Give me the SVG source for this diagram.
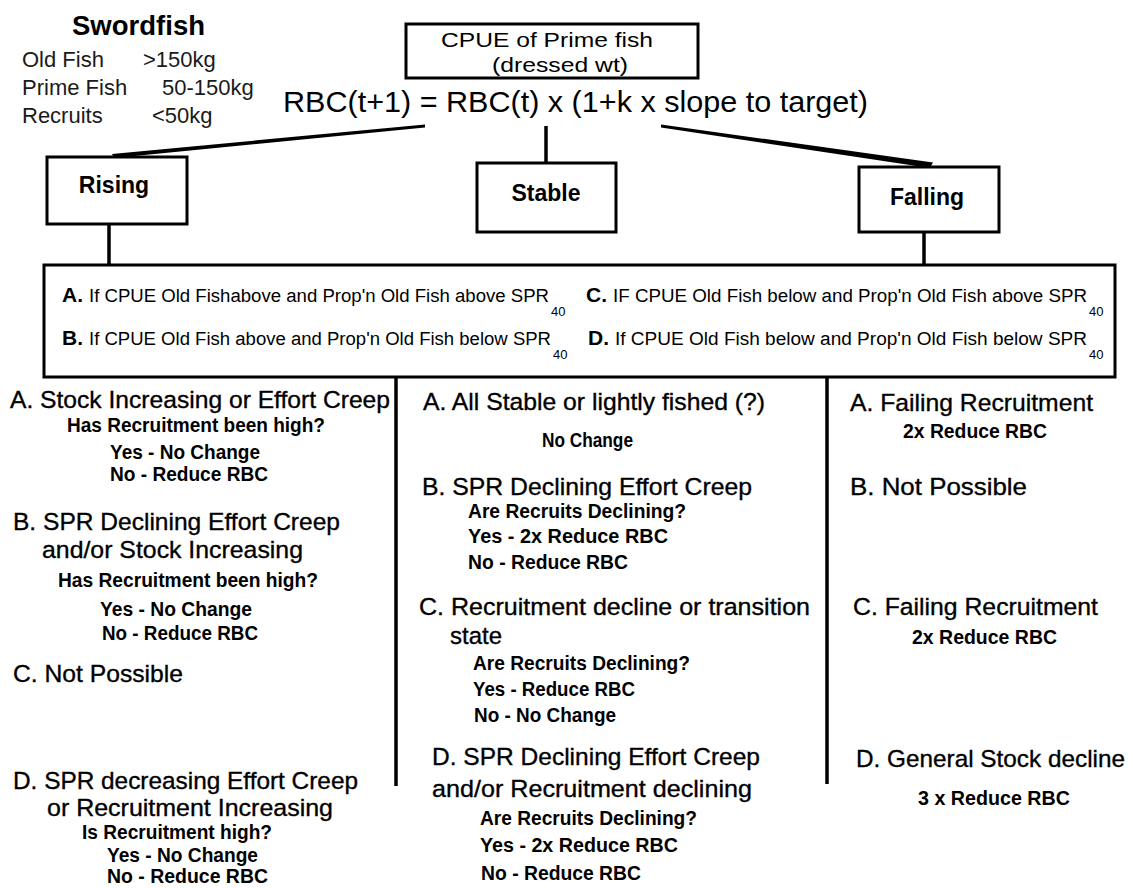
<svg xmlns="http://www.w3.org/2000/svg" width="1133" height="888" viewBox="0 0 1133 888">
  <style>
    .bg { fill: #ffffff; }
    .box { fill: #ffffff; stroke: #000000; stroke-width: 3; }
    .wire { stroke: #000000; stroke-width: 3.5; fill: none; stroke-linecap: butt; }
    .taper { fill: #000000; stroke: none; }
    text { font-family: "Liberation Sans", Arial, sans-serif; fill: #000000; }
    .legend { font-size: 22px; fill: #1a1a1a; }
    .title { font-size: 27px; font-weight: bold; }
    .formula { font-size: 30px; }
    .cpue { font-size: 21px; }
    .state { font-size: 23px; font-weight: bold; text-anchor: middle; }
    .rule { font-size: 18px; }
    .tag { font-size: 21px; font-weight: bold; }
    .sub { font-size: 13px; }
    .head { font-size: 24.5px; stroke: #000000; stroke-width: 0.35px; }
    .note { font-size: 20px; font-weight: bold; }
    .divider { stroke: #000000; stroke-width: 3.5; }
  </style>

  <rect class="bg" x="0" y="0" width="1133" height="888"/>

  <!-- legend: size classes -->
  <g id="legend">
    <text class="title" x="72" y="35" textLength="133" lengthAdjust="spacingAndGlyphs">Swordfish</text>
    <text class="legend" x="22" y="67">Old Fish</text>
    <text class="legend" x="143" y="67">&gt;150kg</text>
    <text class="legend" x="22" y="95">Prime Fish</text>
    <text class="legend" x="162" y="95">50-150kg</text>
    <text class="legend" x="22" y="123">Recruits</text>
    <text class="legend" x="152" y="123">&lt;50kg</text>
  </g>

  <!-- connectors -->
  <g id="connectors">
    <polygon class="taper" points="425,124.5 425,127.5 114,158 112,154"/>
    <line class="wire" x1="546" y1="126" x2="546" y2="163"/>
    <polygon class="taper" points="661,124.5 661,127.5 930,168 933,162.5"/>
    <line class="wire" x1="109" y1="224" x2="109" y2="265"/>
    <line class="wire" x1="924" y1="232" x2="924" y2="265"/>
  </g>

  <!-- root node: indicator and harvest-control formula -->
  <g id="node-cpue">
    <rect class="box" x="406" y="24" width="292" height="54"/>
    <text class="cpue" x="441" y="47" textLength="212" lengthAdjust="spacingAndGlyphs">CPUE of Prime fish</text>
    <text class="cpue" x="492" y="72" textLength="136" lengthAdjust="spacingAndGlyphs">(dressed wt)</text>
  </g>
  <g id="node-formula">
    <text class="formula" x="283" y="112" textLength="585" lengthAdjust="spacingAndGlyphs">RBC(t+1) = RBC(t) x (1+k x slope to target)</text>
  </g>

  <!-- trend nodes -->
  <g id="node-rising">
    <rect class="box" x="47" y="157" width="140" height="67"/>
    <text class="state" x="114" y="193">Rising</text>
  </g>
  <g id="node-stable">
    <rect class="box" x="477" y="163" width="139" height="69"/>
    <text class="state" x="546" y="201">Stable</text>
  </g>
  <g id="node-falling">
    <rect class="box" x="859" y="167" width="140" height="65"/>
    <text class="state" x="927" y="205">Falling</text>
  </g>

  <!-- criteria box -->
  <g id="node-criteria">
    <rect class="box" x="44" y="265" width="1071" height="112"/>
    <text class="tag" x="62" y="302">A.</text>
    <text class="rule" x="89" y="302" textLength="460" lengthAdjust="spacingAndGlyphs">If CPUE Old Fishabove and Prop'n Old Fish above SPR</text>
    <text class="sub" x="551" y="316">40</text>
    <text class="tag" x="62" y="345">B.</text>
    <text class="rule" x="89" y="345" textLength="462" lengthAdjust="spacingAndGlyphs">If CPUE Old Fish above  and Prop'n Old Fish below SPR</text>
    <text class="sub" x="553" y="359">40</text>
    <text class="tag" x="586" y="302">C.</text>
    <text class="rule" x="613" y="302" textLength="474" lengthAdjust="spacingAndGlyphs">IF CPUE Old Fish below and Prop'n Old Fish above SPR</text>
    <text class="sub" x="1089" y="316">40</text>
    <text class="tag" x="588" y="345">D.</text>
    <text class="rule" x="615" y="345" textLength="472" lengthAdjust="spacingAndGlyphs">If CPUE Old Fish below  and Prop'n Old Fish below SPR</text>
    <text class="sub" x="1089" y="359">40</text>
  </g>

  <!-- column separators -->
  <line class="divider" x1="396" y1="377" x2="396" y2="786"/>
  <line class="divider" x1="827" y1="377" x2="827" y2="784"/>

  <!-- outcomes when rising -->
  <g id="node-rising-outcomes">
    <text class="head" x="10" y="408" textLength="380" lengthAdjust="spacingAndGlyphs">A. Stock Increasing or Effort Creep</text>
    <text class="note" x="67" y="432" textLength="258" lengthAdjust="spacingAndGlyphs">Has Recruitment been high?</text>
    <text class="note" x="110" y="459" textLength="150" lengthAdjust="spacingAndGlyphs">Yes - No Change</text>
    <text class="note" x="110" y="481" textLength="158" lengthAdjust="spacingAndGlyphs">No - Reduce RBC</text>
    <text class="head" x="13" y="530" textLength="327" lengthAdjust="spacingAndGlyphs">B. SPR Declining Effort Creep</text>
    <text class="head" x="42" y="558" textLength="261" lengthAdjust="spacingAndGlyphs">and/or Stock Increasing</text>
    <text class="note" x="58" y="587" textLength="260" lengthAdjust="spacingAndGlyphs">Has Recruitment been high?</text>
    <text class="note" x="100" y="616" textLength="152" lengthAdjust="spacingAndGlyphs">Yes - No Change</text>
    <text class="note" x="102" y="640" textLength="156" lengthAdjust="spacingAndGlyphs">No - Reduce RBC</text>
    <text class="head" x="13" y="682" textLength="170" lengthAdjust="spacingAndGlyphs">C. Not Possible</text>
    <text class="head" x="13" y="789" textLength="345" lengthAdjust="spacingAndGlyphs">D. SPR decreasing Effort Creep</text>
    <text class="head" x="47" y="816" textLength="286" lengthAdjust="spacingAndGlyphs">or Recruitment Increasing</text>
    <text class="note" x="82" y="839" textLength="190" lengthAdjust="spacingAndGlyphs">Is Recruitment high?</text>
    <text class="note" x="107" y="862" textLength="151" lengthAdjust="spacingAndGlyphs">Yes - No Change</text>
    <text class="note" x="107" y="883" textLength="161" lengthAdjust="spacingAndGlyphs">No - Reduce RBC</text>
  </g>

  <!-- outcomes when stable -->
  <g id="node-stable-outcomes">
    <text class="head" x="423" y="410" textLength="342" lengthAdjust="spacingAndGlyphs">A. All Stable or lightly fished (?)</text>
    <text class="note" x="542" y="447" textLength="91" lengthAdjust="spacingAndGlyphs">No Change</text>
    <text class="head" x="422" y="495" textLength="330" lengthAdjust="spacingAndGlyphs">B.  SPR Declining Effort Creep</text>
    <text class="note" x="468" y="518" textLength="218" lengthAdjust="spacingAndGlyphs">Are Recruits Declining?</text>
    <text class="note" x="468" y="543" textLength="200" lengthAdjust="spacingAndGlyphs">Yes -  2x  Reduce RBC</text>
    <text class="note" x="468" y="569" textLength="160" lengthAdjust="spacingAndGlyphs">No - Reduce RBC</text>
    <text class="head" x="419" y="615" textLength="391" lengthAdjust="spacingAndGlyphs">C. Recruitment decline or transition</text>
    <text class="head" x="450" y="644" textLength="52" lengthAdjust="spacingAndGlyphs">state</text>
    <text class="note" x="473" y="670" textLength="217" lengthAdjust="spacingAndGlyphs">Are Recruits Declining?</text>
    <text class="note" x="473" y="696" textLength="162" lengthAdjust="spacingAndGlyphs">Yes - Reduce RBC</text>
    <text class="note" x="474" y="722" textLength="142" lengthAdjust="spacingAndGlyphs">No - No Change</text>
    <text class="head" x="432" y="765" textLength="328" lengthAdjust="spacingAndGlyphs">D. SPR Declining Effort Creep</text>
    <text class="head" x="432" y="797" textLength="320" lengthAdjust="spacingAndGlyphs">and/or Recruitment declining</text>
    <text class="note" x="480" y="825" textLength="217" lengthAdjust="spacingAndGlyphs">Are Recruits Declining?</text>
    <text class="note" x="480" y="852" textLength="198" lengthAdjust="spacingAndGlyphs">Yes -  2x  Reduce RBC</text>
    <text class="note" x="481" y="880" textLength="160" lengthAdjust="spacingAndGlyphs">No - Reduce  RBC</text>
  </g>

  <!-- outcomes when falling -->
  <g id="node-falling-outcomes">
    <text class="head" x="850" y="411" textLength="243" lengthAdjust="spacingAndGlyphs">A. Failing Recruitment</text>
    <text class="note" x="903" y="438" textLength="144" lengthAdjust="spacingAndGlyphs">2x  Reduce RBC</text>
    <text class="head" x="850" y="495" textLength="177" lengthAdjust="spacingAndGlyphs">B.  Not Possible</text>
    <text class="head" x="853" y="615" textLength="245" lengthAdjust="spacingAndGlyphs">C. Failing Recruitment</text>
    <text class="note" x="912" y="644" textLength="145" lengthAdjust="spacingAndGlyphs">2x  Reduce RBC</text>
    <text class="head" x="856" y="767" textLength="269" lengthAdjust="spacingAndGlyphs">D. General Stock decline</text>
    <text class="note" x="918" y="805" textLength="152" lengthAdjust="spacingAndGlyphs">3 x Reduce  RBC</text>
  </g>
</svg>
